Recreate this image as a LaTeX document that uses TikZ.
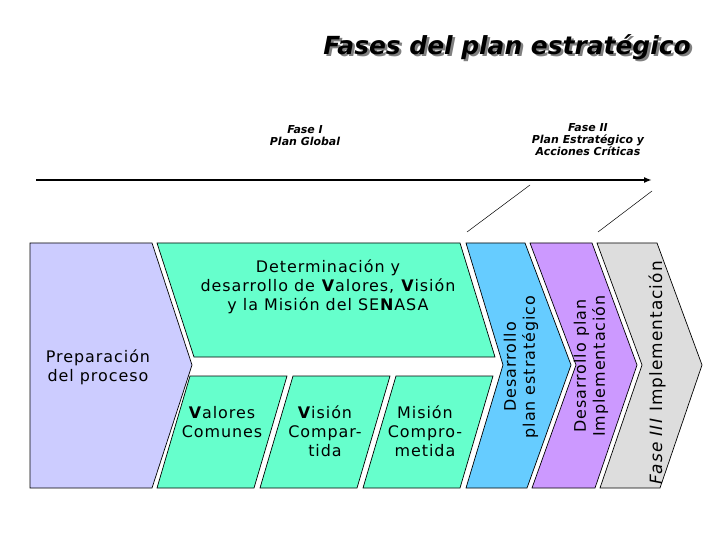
\documentclass[tikz,border=0pt]{standalone}
\usepackage{fontspec}
\setmainfont{DejaVu Sans}
\usetikzlibrary{arrows.meta}
\definecolor{lila}{RGB}{204,204,255}
\definecolor{verde}{RGB}{102,255,204}
\definecolor{celeste}{RGB}{102,204,255}
\definecolor{violeta}{RGB}{204,153,255}
\definecolor{gris}{RGB}{221,221,221}
\newcommand{\sombreado}[1]{\rlap{\textcolor{gray}{\kern2.5pt\raisebox{-2.5pt}{#1}}}#1}
\begin{document}
\begin{tikzpicture}[x=1bp, y=-1bp, font=\fontsize{16}{19}\selectfont\addfontfeatures{LetterSpace=6},
  fase/.style={draw=black, line width=.7bp},
  txt/.style={align=center, inner sep=0pt},
  rot/.style={txt, rotate=90},
  cab/.style={align=center, inner sep=0pt, font=\fontsize{11}{12}\selectfont\bfseries\itshape}]
\useasboundingbox (0,0) rectangle (720,540);

\node[txt, font=\fontsize{25}{28}\selectfont\bfseries\itshape] (titulo) at (507,48) {\sombreado{Fases del plan estratégico}};

\node[cab] (faseI) at (305,136) {Fase I\\Plan Global};
\node[cab] (faseII) at (588,140) {Fase II\\Plan Estratégico y\\Acciones Críticas};

\coordinate (ini) at (36,180);
\coordinate (fin) at (652,180);
\draw[line width=2.2bp, -{Latex[length=8bp,width=6bp]}] (ini) -- (fin);

\coordinate (d1a) at (530,185);
\coordinate (d1b) at (467,232);
\coordinate (d2a) at (652,191);
\coordinate (d2b) at (598,232);
\draw[line width=.5bp] (d1a) -- (d1b);
\draw[line width=.5bp] (d2a) -- (d2b);

\filldraw[fase, fill=lila] (30,243) -- (152,243) -- (192,365) -- (152,488) -- (30,488) -- cycle;
\filldraw[fase, fill=verde] (157,243) -- (460,243) -- (495,357) -- (194,357) -- cycle;
\filldraw[fase, fill=verde] (190,376) -- (287,376) -- (254,488) -- (157,488) -- cycle;
\filldraw[fase, fill=verde] (293,376) -- (390,376) -- (357,488) -- (260,488) -- cycle;
\filldraw[fase, fill=verde] (396,376) -- (493,376) -- (460,488) -- (363,488) -- cycle;
\filldraw[fase, fill=celeste] (466,243) -- (525,243) -- (571,365) -- (527,488) -- (466,488) -- (503,365) -- cycle;
\filldraw[fase, fill=violeta] (530,243) -- (592,243) -- (637,365) -- (595,488) -- (532,488) -- (576,365) -- cycle;
\filldraw[fase, fill=gris] (597,243) -- (657,243) -- (702,365) -- (660,488) -- (600,488) -- (642,365) -- cycle;

\node[txt] (prep) at (98,367) {Preparación\\del proceso};
\node[txt] (determ) at (328,287) {Determinación y\\desarrollo de \textbf{V}alores, \textbf{V}isión\\y la Misión del SE\textbf{N}ASA};
\node[txt] (valores) at (222,422) {\textbf{V}alores\\Comunes};
\node[txt] (vision) at (325,431) {\textbf{V}isión\\Compar-\\tida};
\node[txt] (mision) at (425,431) {Misión\\Compro-\\metida};
\node[rot] (desest) at (521,367) {Desarrollo\\plan estratégico};
\node[rot] (desimp) at (591,366) {Desarrollo plan\\Implementación};
\node[rot, font=\fontsize{17}{19}\selectfont\addfontfeatures{LetterSpace=6}] (impl) at (657,373) {\textit{Fase III} Implementación};
\end{tikzpicture}
\end{document}
